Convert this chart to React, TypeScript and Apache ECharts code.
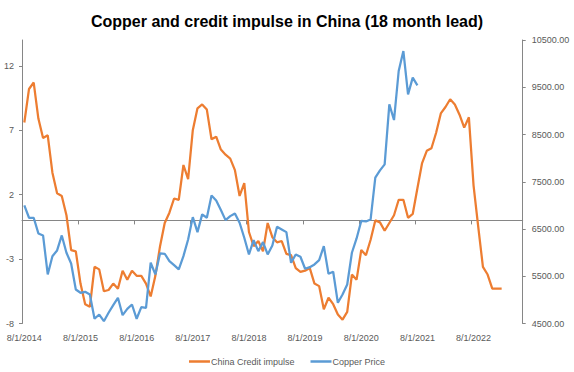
import { useEffect, useRef } from "react";
import * as echarts from "echarts";

const TITLE = "Copper and credit impulse in China (18 month lead)";
const SERIES_NAMES = ["China Credit impulse", "Copper Price"];

// Monthly categories: 8/1/2014 .. 6/1/2023
const FIRST_YEAR = 2014;
const FIRST_MONTH = 8;
const MONTH_COUNT = 107;

// China credit impulse (left axis), shifted 18 months forward
const creditImpulse = [
  7.6, 10.2, 10.7, 7.9, 6.4, 6.6, 3.7, 2.1, 1.9, 0.4,
  -2.3, -2.4, -4.9, -6.5, -6.7, -3.6, -3.8, -5.5, -5.4, -4.9,
  -5.3, -3.9, -4.6, -3.9, -4.3, -4.3, -4.9, -5.9, -4.3, -2.0,
  -0.2, 0.6, 1.7, 1.6, 4.3, 3.2, 7.0, 8.7, 9.0, 8.6,
  6.3, 6.5, 5.5, 5.1, 4.8, 3.9, 1.9, 2.9, -0.9, -2.0,
  -1.6, -2.4, -0.2, -1.3, -1.7, -1.6, -2.6, -2.7, -3.7, -4.0,
  -3.9, -3.7, -4.9, -5.1, -6.9, -6.0, -6.5, -7.3, -7.7, -7.1,
  -4.2, -4.6, -2.3, -2.7, -1.5, 0.0, -0.15, -0.8, -0.2, 0.4,
  1.6, 1.6, 0.2, 0.5, 2.5, 4.45, 5.4, 5.6, 6.8, 8.3,
  8.8, 9.4, 9.0, 8.2, 7.2, 8.0, 2.7, -0.5, -3.6, -4.2,
  -5.3, -5.3, -5.3,
];

// Copper price (right axis)
const copperPrice = [
  7000, 6738, 6738, 6406, 6364, 5538, 5925, 6046, 6364, 5997,
  5771, 5220, 5150, 5171, 5114, 4600, 4690, 4549, 4727, 4888,
  5044, 4676, 4811, 4902, 4600, 4845, 4832, 5786, 5538, 5983,
  5976, 5820, 5735, 5644, 5925, 6279, 6751, 6434, 6809, 6738,
  7211, 7105, 6900, 6688, 6773, 6830, 6633, 6315, 5961, 6264,
  6031, 6222, 5961, 6150, 6548, 6491, 6434, 5786, 5961, 5913,
  5659, 5692, 5750, 5841, 6137, 5553, 5595, 4938, 5114, 5326,
  5997, 6300, 6670, 6660, 6703, 7586, 7740, 7868, 9138, 8806,
  9844, 10267, 9350, 9704, 9541,
];

const LEFT_MIN = -8;
const LEFT_MAX = 14;
const LEFT_STEP = 5;
const RIGHT_MIN = 4500;
const RIGHT_MAX = 10500;
const RIGHT_STEP = 1000;
const LABEL_EVERY = 12;

const ORANGE = "#ED7D31";
const BLUE = "#5B9BD5";
const AXIS_GRAY = "#868686";
const TEXT_GRAY = "#595959";
const FONT = "'Liberation Sans', Arial, sans-serif";

function buildCategories(): string[] {
  const out: string[] = [];
  for (let k = 0; k < MONTH_COUNT; k++) {
    const m = FIRST_MONTH - 1 + k;
    const year = FIRST_YEAR + Math.floor(m / 12);
    const month = (m % 12) + 1;
    out.push(`${month}/1/${year}`);
  }
  return out;
}

export default function App() {
  const ref = useRef<HTMLDivElement>(null);

  useEffect(() => {
    if (!ref.current) return;
    const chart = echarts.init(ref.current, undefined, { renderer: "svg" });
    const categories = buildCategories();

    chart.setOption({
      animation: false,
      backgroundColor: "#ffffff",
      title: {
        text: TITLE,
        left: "center",
        top: 8,
        textStyle: { fontFamily: FONT, fontSize: 16, fontWeight: "bold", color: "#000000" },
      },
      legend: {
        data: SERIES_NAMES,
        left: "center",
        top: 352,
        icon: "rect",
        itemWidth: 21,
        itemHeight: 2.5,
        itemGap: 16,
        textStyle: { fontFamily: FONT, fontSize: 9, color: TEXT_GRAY, padding: [0, 0, 0, -4] },
      },
      grid: { left: 22, right: 51.3, top: 40, bottom: 48.5 },
      xAxis: [
        {
          type: "category",
          data: categories,
          boundaryGap: true,
          position: "bottom",
          axisLine: { show: true, onZero: true, onZeroAxisIndex: 0, lineStyle: { color: AXIS_GRAY, width: 1 } },
          axisTick: { show: true, interval: LABEL_EVERY - 1, length: 4, lineStyle: { color: AXIS_GRAY } },
          axisLabel: { show: false, interval: LABEL_EVERY - 1 },
          splitLine: { show: false },
        },
        {
          type: "category",
          data: categories,
          boundaryGap: true,
          position: "bottom",
          axisLine: { show: false, onZero: false },
          axisTick: { show: false },
          axisLabel: {
            show: true,
            interval: LABEL_EVERY - 1,
            margin: 10,
            fontFamily: FONT,
            fontSize: 9,
            color: TEXT_GRAY,
          },
          splitLine: { show: false },
        },
      ],
      yAxis: [
        {
          type: "value",
          position: "left",
          min: LEFT_MIN,
          max: LEFT_MAX,
          interval: LEFT_STEP,
          axisLine: { show: true, lineStyle: { color: AXIS_GRAY } },
          axisTick: { show: true, length: 3, lineStyle: { color: AXIS_GRAY } },
          axisLabel: { showMaxLabel: false, margin: 8, fontFamily: FONT, fontSize: 9, color: TEXT_GRAY },
          splitLine: { show: false },
        },
        {
          type: "value",
          position: "right",
          min: RIGHT_MIN,
          max: RIGHT_MAX,
          interval: RIGHT_STEP,
          axisLine: { show: true, lineStyle: { color: AXIS_GRAY } },
          axisTick: { show: true, length: 3, lineStyle: { color: AXIS_GRAY } },
          axisLabel: {
            margin: 9,
            fontFamily: FONT,
            fontSize: 9,
            color: TEXT_GRAY,
            formatter: (v: number) => v.toFixed(2),
          },
          splitLine: { show: false },
        },
      ],
      series: [
        {
          name: SERIES_NAMES[0],
          type: "line",
          xAxisIndex: 0,
          yAxisIndex: 0,
          data: creditImpulse,
          showSymbol: false,
          symbol: "none",
          color: ORANGE,
          lineStyle: { color: ORANGE, width: 2.25 },
        },
        {
          name: SERIES_NAMES[1],
          type: "line",
          xAxisIndex: 0,
          yAxisIndex: 1,
          data: copperPrice,
          showSymbol: false,
          symbol: "none",
          color: BLUE,
          lineStyle: { color: BLUE, width: 2.25 },
        },
      ],
    });

    return () => chart.dispose();
  }, []);

  return (
    <div
      ref={ref}
      style={{ position: "fixed", left: 0, top: 0, width: 574, height: 372, background: "#fff" }}
    />
  );
}
